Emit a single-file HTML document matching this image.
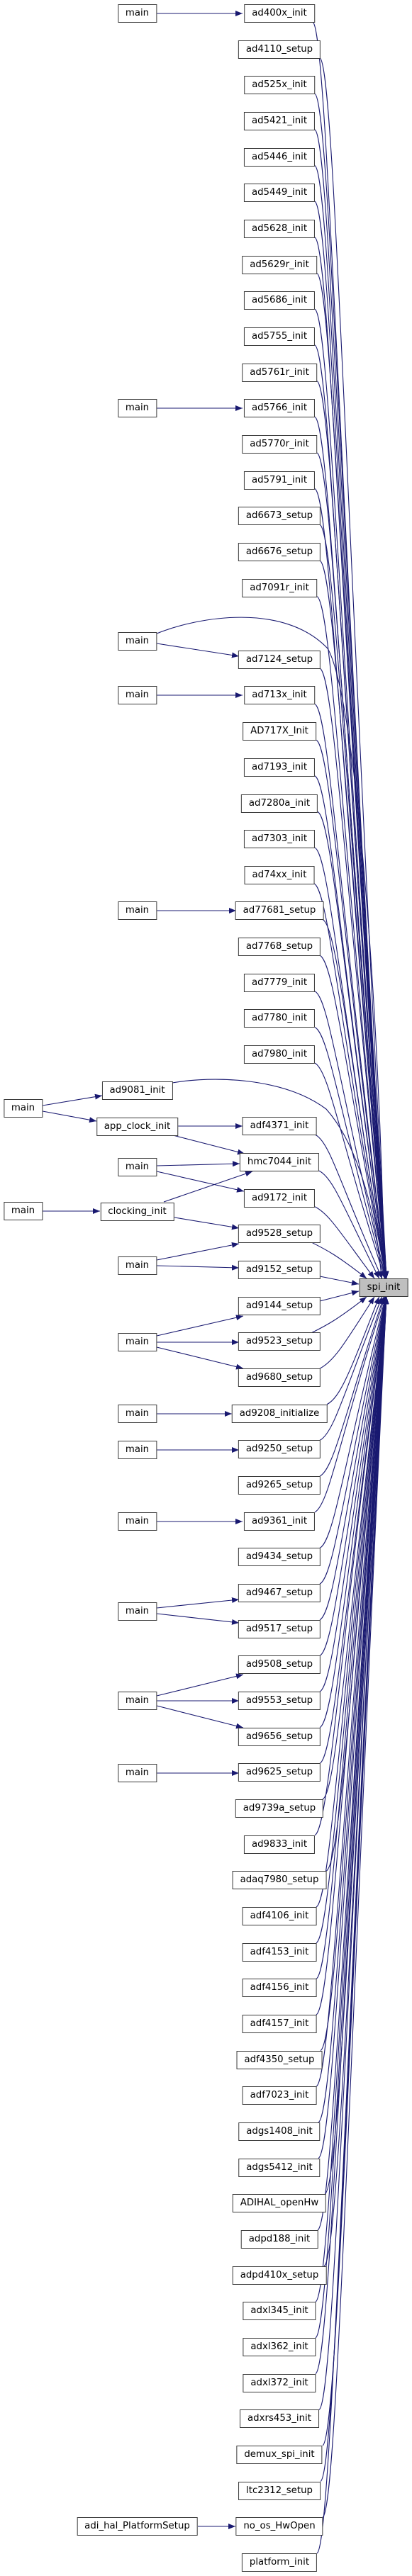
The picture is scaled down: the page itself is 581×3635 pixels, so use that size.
<!DOCTYPE html>
<html><head><meta charset="utf-8">
<style>
html,body{margin:0;padding:0;background:#fff;}
body{width:581px;height:3635px;position:relative;overflow:hidden;font-family:"DejaVu Sans","Liberation Sans",sans-serif;}
.n{position:absolute;height:26px;box-sizing:border-box;border:1px solid #3a3a3a;background:#fff;padding:0 10px;line-height:24px;font-size:13.3px;color:#000;white-space:nowrap;transform:translateX(-50%);z-index:2;}
.m{left:394px;}
.l{left:193.5px;}
.ll{left:32.5px;}
svg{position:absolute;left:0;top:0;z-index:1;}
</style></head><body>
<svg id="sv" width="581" height="3635" viewBox="0 0 581 3635">
<defs><marker id="a" markerWidth="10" markerHeight="8" refX="10" refY="4" orient="auto" markerUnits="userSpaceOnUse"><path d="M0,0 L10,4 L0,8z" fill="#191970"/></marker></defs>
<g id="eg" fill="none" stroke="#191970" stroke-width="1.1" marker-end="url(#a)">
<path d="M221,19 L342,19"/>
<path d="M221,576 L342,576"/>
<path d="M221,908 L337,926"/>
<path d="M221,894 C280,870 400,850 462,915 C500,980 535,1400 542,1804"/>
<path d="M221,981 L342,981"/>
<path d="M221,1285 L333,1285"/>
<path d="M60,1560 L144,1546"/>
<path d="M60,1568 L136,1582"/>
<path d="M243,1528 C300,1518 400,1520 460,1565 C500,1610 530,1700 538,1804"/>
<path d="M251,1589 L342,1589"/>
<path d="M244,1602 L345,1628"/>
<path d="M221,1645 L338,1642"/>
<path d="M221,1653 L344,1681"/>
<path d="M60,1709 L141,1709"/>
<path d="M231,1696 L356,1653"/>
<path d="M246,1718 L337,1733"/>
<path d="M221,1778 L337,1755"/>
<path d="M221,1786 L337,1789"/>
<path d="M221,1885 L343,1857"/>
<path d="M221,1894 L337,1894"/>
<path d="M221,1901 L343,1931"/>
<path d="M221,1995 L327,1995"/>
<path d="M221,2046 L337,2046"/>
<path d="M221,2147 L342,2147"/>
<path d="M221,2269 L337,2257"/>
<path d="M221,2277 L337,2290"/>
<path d="M221,2393 L343,2363"/>
<path d="M221,2400 L337,2400"/>
<path d="M221,2407 L343,2438"/>
<path d="M221,2502 L337,2502"/>
<path d="M279,3565 L332,3565"/>
<path d="M451,1801 L506,1812"/>
<path d="M451,1836 L506,1822"/>
</g>
</svg>

<div class="n m" style="top:6px">ad400x_init</div>
<div class="n m" style="top:57px">ad4110_setup</div>
<div class="n m" style="top:107px">ad525x_init</div>
<div class="n m" style="top:158px">ad5421_init</div>
<div class="n m" style="top:209px">ad5446_init</div>
<div class="n m" style="top:259px">ad5449_init</div>
<div class="n m" style="top:310px">ad5628_init</div>
<div class="n m" style="top:361px">ad5629r_init</div>
<div class="n m" style="top:411px">ad5686_init</div>
<div class="n m" style="top:462px">ad5755_init</div>
<div class="n m" style="top:513px">ad5761r_init</div>
<div class="n m" style="top:563px">ad5766_init</div>
<div class="n m" style="top:614px">ad5770r_init</div>
<div class="n m" style="top:665px">ad5791_init</div>
<div class="n m" style="top:715px">ad6673_setup</div>
<div class="n m" style="top:766px">ad6676_setup</div>
<div class="n m" style="top:817px">ad7091r_init</div>
<div class="n m" style="top:918px">ad7124_setup</div>
<div class="n m" style="top:968px">ad713x_init</div>
<div class="n m" style="top:1019px">AD717X_Init</div>
<div class="n m" style="top:1070px">ad7193_init</div>
<div class="n m" style="top:1121px">ad7280a_init</div>
<div class="n m" style="top:1171px">ad7303_init</div>
<div class="n m" style="top:1222px">ad74xx_init</div>
<div class="n m" style="top:1272px">ad77681_setup</div>
<div class="n m" style="top:1323px">ad7768_setup</div>
<div class="n m" style="top:1374px">ad7779_init</div>
<div class="n m" style="top:1424px">ad7780_init</div>
<div class="n m" style="top:1475px">ad7980_init</div>
<div class="n m" style="top:1576px">adf4371_init</div>
<div class="n m" style="top:1627px">hmc7044_init</div>
<div class="n m" style="top:1678px">ad9172_init</div>
<div class="n m" style="top:1728px">ad9528_setup</div>
<div class="n m" style="top:1779px">ad9152_setup</div>
<div class="n m" style="top:1830px">ad9144_setup</div>
<div class="n m" style="top:1880px">ad9523_setup</div>
<div class="n m" style="top:1931px">ad9680_setup</div>
<div class="n m" style="top:1982px">ad9208_initialize</div>
<div class="n m" style="top:2032px">ad9250_setup</div>
<div class="n m" style="top:2083px">ad9265_setup</div>
<div class="n m" style="top:2134px">ad9361_init</div>
<div class="n m" style="top:2184px">ad9434_setup</div>
<div class="n m" style="top:2235px">ad9467_setup</div>
<div class="n m" style="top:2286px">ad9517_setup</div>
<div class="n m" style="top:2336px">ad9508_setup</div>
<div class="n m" style="top:2387px">ad9553_setup</div>
<div class="n m" style="top:2438px">ad9656_setup</div>
<div class="n m" style="top:2488px">ad9625_setup</div>
<div class="n m" style="top:2539px">ad9739a_setup</div>
<div class="n m" style="top:2590px">ad9833_init</div>
<div class="n m" style="top:2640px">adaq7980_setup</div>
<div class="n m" style="top:2691px">adf4106_init</div>
<div class="n m" style="top:2742px">adf4153_init</div>
<div class="n m" style="top:2792px">adf4156_init</div>
<div class="n m" style="top:2843px">adf4157_init</div>
<div class="n m" style="top:2894px">adf4350_setup</div>
<div class="n m" style="top:2944px">adf7023_init</div>
<div class="n m" style="top:2995px">adgs1408_init</div>
<div class="n m" style="top:3046px">adgs5412_init</div>
<div class="n m" style="top:3096px">ADIHAL_openHw</div>
<div class="n m" style="top:3147px">adpd188_init</div>
<div class="n m" style="top:3198px">adpd410x_setup</div>
<div class="n m" style="top:3248px">adxl345_init</div>
<div class="n m" style="top:3299px">adxl362_init</div>
<div class="n m" style="top:3350px">adxl372_init</div>
<div class="n m" style="top:3400px">adxrs453_init</div>
<div class="n m" style="top:3451px">demux_spi_init</div>
<div class="n m" style="top:3502px">ltc2312_setup</div>
<div class="n m" style="top:3552px">no_os_HwOpen</div>
<div class="n m" style="top:3603px">platform_init</div>

<div class="n" style="left:541px;top:1804px;background:#bfbfbf;">spi_init</div>

<div class="n l" style="top:6px">main</div>
<div class="n l" style="top:563px">main</div>
<div class="n l" style="top:892px">main</div>
<div class="n l" style="top:968px">main</div>
<div class="n l" style="top:1272px">main</div>
<div class="n l" style="top:1526px">ad9081_init</div>
<div class="n l" style="top:1577px">app_clock_init</div>
<div class="n l" style="top:1634px">main</div>
<div class="n l" style="top:1697px">clocking_init</div>
<div class="n l" style="top:1773px">main</div>
<div class="n l" style="top:1881px">main</div>
<div class="n l" style="top:1982px">main</div>
<div class="n l" style="top:2033px">main</div>
<div class="n l" style="top:2134px">main</div>
<div class="n l" style="top:2261px">main</div>
<div class="n l" style="top:2387px">main</div>
<div class="n l" style="top:2489px">main</div>
<div class="n l" style="top:3552px">adi_hal_PlatformSetup</div>
<div class="n ll" style="top:1551px">main</div>
<div class="n ll" style="top:1696px">main</div>

<script>
(function(){
var rows=[[0,441],[1,451],[2,444],[3,444],[4,444],[5,444],[6,444],[7,447],[8,444],[9,444],[10,447],[11,444],[12,447],[13,444],[14,451],[15,451],[16,447],[18,451],[19,444],[20,446],[21,444],[22,448],[23,444],[24,443],[25,455],[26,451],[27,444],[28,444],[29,444],[31,445],[32,450],[33,444],[34,440],
[37,440],[38,451],[39,461],[40,451],[41,451],[42,444],[43,451],[44,451],[45,451],[46,451],[47,451],[48,451],[49,451],[50,455],[51,444],[52,460],[53,446],[54,446],[55,446],[56,446],[57,452],[58,446],[59,449],[60,449],[61,458],[62,448],[63,457],[64,445],[65,445],[66,445],[67,450],[68,455],[69,452],[70,455],[71,447]];
var g=document.getElementById('eg'),ns='http://www.w3.org/2000/svg';
rows.forEach(function(r){
 var i=r[0],xr=r[1],yt=6+50.66*i,d,tx,p;
 if(i<35){
  var yb=yt+25;d=35.5-i;tx=545-28*Math.exp(-(d-1.5)/2);var ty=1804;
  p='M'+xr+','+yb+' C'+(xr+20)+','+(yb+10)+' '+Math.min(xr+35,tx-15)+','+(yb+(ty-yb)*0.35)+' '+tx.toFixed(1)+','+ty;
 }else{
  d=i-35.5;tx=545-28*Math.exp(-(d-1.5)/2);var ty=1830;
  p='M'+xr+','+yt+' C'+(xr+20)+','+(yt-10)+' '+Math.min(xr+35,tx-15)+','+(yt-(yt-ty)*0.35)+' '+tx.toFixed(1)+','+ty;
 }
 var e=document.createElementNS(ns,'path');e.setAttribute('d',p);g.appendChild(e);
});
})();
</script>
</body></html>
